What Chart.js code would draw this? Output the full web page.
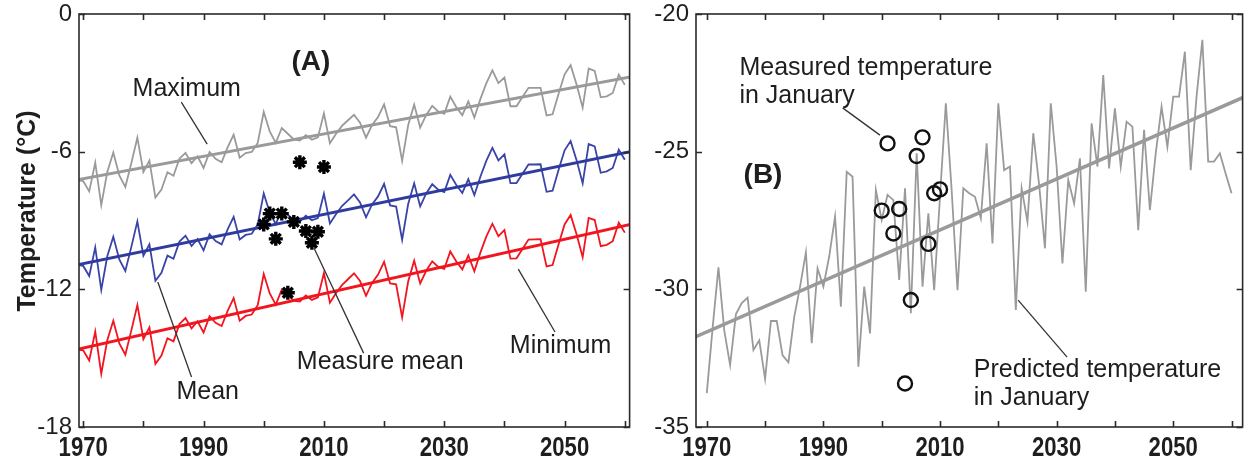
<!DOCTYPE html>
<html>
<head>
<meta charset="utf-8">
<script src="https://cdn.jsdelivr.net/npm/chart.js@4.4.0/dist/chart.umd.min.js"></script>
<style>
  html, body { margin:0; padding:0; background:#fff; }
  #wrapA { position:absolute; left:0; top:0; width:640px; height:461px; }
  #wrapB { position:absolute; left:640px; top:0; width:612px; height:461px; }
</style>
</head>
<body>
<div id="wrapA"><canvas id="chartA"></canvas></div>
<div id="wrapB"><canvas id="chartB"></canvas></div>
<script>
// ---- panel A : annual temperatures (deg C), 1969-2060 ----
const yearsA = Array.from({length: 92}, (_, i) => 1969 + i);

const maxTemp = [
  -7.23,-7.28,-7.73,-6.48,-8.33,-6.89,-6.04,-7.04,-7.54,-6.49,
  -5.39,-6.89,-6.39,-8.00,-7.65,-6.90,-7.05,-6.30,-6.05,-6.50,
  -6.20,-6.71,-6.01,-6.31,-6.46,-5.81,-5.26,-6.26,-6.06,-6.01,
  -5.62,-4.27,-5.12,-5.62,-4.97,-5.22,-5.47,-5.52,-5.28,-5.48,
  -5.38,-4.33,-5.63,-5.23,-4.88,-4.63,-4.39,-4.74,-5.39,-4.84,
  -4.49,-3.94,-4.89,-4.94,-6.40,-4.85,-3.95,-4.95,-4.40,-4.00,
  -4.25,-4.35,-3.60,-4.06,-4.41,-3.81,-4.51,-3.71,-3.01,-2.46,
  -3.01,-2.77,-4.02,-4.02,-3.62,-3.22,-3.22,-3.22,-4.42,-4.37,
  -3.48,-2.63,-2.23,-3.08,-4.08,-2.38,-2.48,-3.63,-3.59,-3.44,
  -2.64,-3.09
];
const meanTemp = [
  -10.93,-10.98,-11.42,-10.17,-12.02,-10.56,-9.71,-10.70,-11.20,-10.15,
  -9.04,-10.54,-10.04,-11.63,-11.28,-10.53,-10.67,-9.92,-9.66,-10.11,
  -9.81,-10.30,-9.60,-9.90,-10.04,-9.39,-8.84,-9.83,-9.63,-9.58,
  -9.17,-7.82,-8.66,-9.16,-8.51,-8.75,-9.00,-9.05,-8.79,-8.99,
  -8.89,-7.83,-9.13,-8.73,-8.37,-8.12,-7.86,-8.21,-8.86,-8.30,
  -7.95,-7.40,-8.34,-8.39,-9.84,-8.28,-7.38,-8.38,-7.82,-7.42,
  -7.66,-7.76,-7.01,-7.45,-7.80,-7.20,-7.89,-7.09,-6.39,-5.83,
  -6.38,-6.12,-7.37,-7.37,-6.96,-6.56,-6.56,-6.55,-7.75,-7.70,
  -6.79,-5.94,-5.54,-6.38,-7.38,-5.67,-5.77,-6.92,-6.86,-6.71,
  -5.91,-6.35
];
const minTemp = [
  -14.62,-14.66,-15.10,-13.84,-15.68,-14.22,-13.37,-14.36,-14.85,-13.79,
  -12.68,-14.17,-13.66,-15.25,-14.89,-14.13,-14.27,-13.51,-13.25,-13.70,
  -13.39,-13.88,-13.17,-13.46,-13.60,-12.94,-12.38,-13.37,-13.16,-13.10,
  -12.69,-11.33,-12.18,-12.67,-12.01,-12.25,-12.49,-12.53,-12.27,-12.46,
  -12.35,-11.29,-12.58,-12.17,-11.82,-11.56,-11.30,-11.64,-12.28,-11.72,
  -11.36,-10.80,-11.74,-11.78,-13.22,-11.66,-10.75,-11.74,-11.19,-10.78,
  -11.02,-11.11,-10.35,-10.79,-11.13,-10.52,-11.21,-10.40,-9.69,-9.14,
  -9.68,-9.42,-10.66,-10.65,-10.24,-9.83,-9.82,-9.81,-11.00,-10.94,
  -10.03,-9.17,-8.76,-9.61,-10.60,-8.89,-8.98,-10.12,-10.06,-9.90,
  -9.09,-9.53
];

// linear trends (end points)
const trendYearsA = [1969, 2061];
const maxTrend  = [-7.23, -2.74];
const meanTrend = [-10.93, -6.00];
const minTrend  = [-14.62, -9.17];

// measured annual mean
const measuredYears = [2000, 2001, 2002, 2003, 2004, 2005, 2006, 2007, 2008, 2009, 2010];
const measuredMean  = [-9.17, -8.70, -9.80, -8.70, -12.15, -9.06, -6.46, -9.46, -9.97, -9.49, -6.67];

// ---- panel B : January temperatures, 1970-2060 ----
const yearsB = Array.from({length: 91}, (_, i) => 1970 + i);
const janPredicted = [
  -33.77,-31.40,-29.20,-31.50,-32.75,-30.90,-30.50,-30.30,-32.20,-31.85,
  -33.25,-31.15,-31.15,-32.40,-32.65,-31.00,-29.90,-28.65,-31.96,-29.24,
  -29.90,-28.80,-27.36,-30.63,-25.73,-25.91,-32.81,-29.90,-31.60,-26.39,
  -27.48,-26.57,-26.76,-29.66,-26.33,-30.87,-25.06,-29.90,-27.24,-30.03,
  -26.63,-23.24,-26.40,-30.03,-26.33,-26.51,-26.64,-27.42,-24.70,-28.33,
  -23.24,-25.67,-25.54,-30.75,-26.33,-27.54,-24.33,-26.20,-28.51,-23.24,
  -25.54,-29.06,-26.03,-26.88,-25.24,-30.09,-23.97,-25.54,-22.22,-25.61,
  -23.43,-25.54,-23.91,-24.09,-27.85,-24.21,-27.12,-25.06,-23.37,-24.82,
  -23.00,-23.00,-21.37,-25.67,-23.00,-20.94,-25.36,-25.36,-25.06,-25.80,
  -26.51
];
const trendYearsB = [1968, 2062];
const janTrend = [-31.73, -23.03];

const janMeasuredYears = [2000, 2001, 2002, 2003, 2004, 2005, 2006, 2007, 2008, 2009, 2010];
const janMeasured = [-27.14, -24.70, -27.97, -27.08, -33.42, -30.39, -25.16, -24.48, -28.35, -26.51, -26.37];

// ticks
const xTickStep = 10;
const xLabelYears = [1970, 1990, 2010, 2030, 2050];
const yTicksA = { min: -18, max: 0, step: 6 };
const yTicksB = { min: -35, max: -20, step: 5 };

const GRAY = '#9a9a9a', BLUE = '#3a44a8', RED = '#f2151f', INK = '#1e1e1e';
const SANS = "'Liberation Sans', Arial, Helvetica, sans-serif";

const pts = (xs, ys) => xs.map((x, i) => ({ x: x, y: ys[i] }));

function lineSet(xs, ys, color, width, order){
  return { data: pts(xs, ys), borderColor: color, borderWidth: width, pointRadius: 0,
           tension: 0, fill: false, order: order };
}

function xScale(min, max){
  return {
    type: 'linear', min: min, max: max,
    grid: { display: false, drawTicks: false }, border: { display: false },
    // labels are drawn condensed by the decor plugin
    ticks: { stepSize: xTickStep, includeBounds: false, autoSkip: false, maxRotation: 0,
             callback: () => '' },
    afterFit: s => { s.height = 34; s.paddingLeft = 0; s.paddingRight = 0; }
  };
}
function yScale(t, w){
  return {
    type: 'linear', min: t.min, max: t.max,
    grid: { display: false, drawTicks: false }, border: { display: false },
    ticks: { stepSize: t.step, padding: 7, color: INK, font: { family: SANS, size: 24 } },
    afterFit: s => { s.width = w; s.paddingTop = 0; s.paddingBottom = 0; }
  };
}

// frame, inward ticks, x labels, notes with leader lines
function makeDecor(notes, leaders, yTitle){
  return {
    id: 'decor',
    afterDatasetsDraw(chart){
      const { ctx, chartArea: a, scales: { x, y } } = chart;
      ctx.save();
      ctx.strokeStyle = '#2a2a2a';
      ctx.lineWidth = 1.6;
      ctx.strokeRect(a.left, a.top, a.right - a.left, a.bottom - a.top);
      ctx.beginPath();
      x.ticks.forEach(t => {
        const px = Math.round(x.getPixelForValue(t.value)) + 0.5;
        ctx.moveTo(px, a.bottom); ctx.lineTo(px, a.bottom - 6);
        ctx.moveTo(px, a.top); ctx.lineTo(px, a.top + 6);
      });
      y.ticks.forEach(t => {
        const py = Math.round(y.getPixelForValue(t.value)) + 0.5;
        ctx.moveTo(a.left, py); ctx.lineTo(a.left + 6, py);
        ctx.moveTo(a.right, py); ctx.lineTo(a.right - 6, py);
      });
      ctx.stroke();

      // condensed bold year labels
      ctx.fillStyle = INK;
      ctx.font = 'bold 27px ' + SANS;
      ctx.textAlign = 'center';
      ctx.textBaseline = 'alphabetic';
      xLabelYears.forEach(v => {
        ctx.save();
        ctx.translate(x.getPixelForValue(v), a.bottom + 29);
        ctx.scale(0.82, 1);
        ctx.fillText(String(v), 0, 0);
        ctx.restore();
      });

      ctx.strokeStyle = '#333';
      ctx.lineWidth = 1.3;
      leaders.forEach(l => {
        ctx.beginPath();
        ctx.moveTo(x.getPixelForValue(l[0]), y.getPixelForValue(l[1]));
        ctx.lineTo(x.getPixelForValue(l[2]), y.getPixelForValue(l[3]));
        ctx.stroke();
      });

      ctx.textBaseline = 'middle';
      notes.forEach(n => {
        ctx.font = (n.bold ? 'bold ' : '') + n.size + 'px ' + SANS;
        ctx.textAlign = n.align || 'left';
        ctx.fillText(n.text, x.getPixelForValue(n.x), y.getPixelForValue(n.y));
      });

      if (yTitle){
        ctx.translate(28, 211);
        ctx.rotate(-Math.PI / 2);
        ctx.textAlign = 'center';
        ctx.font = 'bold 25px ' + SANS;
        ctx.fillText(yTitle, 0, 0);
      }
      ctx.restore();
    }
  };
}

const baseOptions = (xs, ys, pad) => ({
  responsive: true, maintainAspectRatio: false, animation: false,
  layout: { padding: pad },
  plugins: { legend: { display: false }, tooltip: { enabled: false } },
  scales: { x: xs, y: ys }
});

// panel A
new Chart(document.getElementById('chartA'), {
  type: 'line',
  data: { datasets: [
    { data: pts(measuredYears, measuredMean), showLine: false, pointStyle: 'star',
      pointRadius: 7, borderColor: '#000', borderWidth: 3.4, order: 0 },
    lineSet(trendYearsA, maxTrend, GRAY, 3, 1),
    lineSet(trendYearsA, meanTrend, '#2f3b9e', 3, 1),
    lineSet(trendYearsA, minTrend, RED, 3, 1),
    lineSet(yearsA, maxTemp, GRAY, 1.8, 2),
    lineSet(yearsA, meanTemp, BLUE, 1.8, 2),
    lineSet(yearsA, minTemp, RED, 1.8, 2)
  ]},
  options: baseOptions(xScale(1969.3, 2060.8), yScale(yTicksA, 79), { left: 0, right: 8, top: 14, bottom: 0 }),
  plugins: [makeDecor(
    [
      { text: '(A)', x: 2007.85, y: -2.1, size: 28, bold: true, align: 'center' },
      { text: 'Maximum', x: 1978.2, y: -3.27, size: 25 },
      { text: 'Mean', x: 1985.5, y: -16.48, size: 25 },
      { text: 'Measure mean', x: 2005.5, y: -15.17, size: 25 },
      { text: 'Minimum', x: 2040.9, y: -14.47, size: 25 }
    ],
    [
      [1986.3, -3.84, 1990.6, -5.67],
      [1988.0, -15.82, 1982.4, -11.68],
      [2016.6, -14.78, 2008.35, -10.2],
      [2048.4, -13.86, 2042.3, -11.12]
    ],
    'Temperature (°C)'
  )]
});

// panel B
new Chart(document.getElementById('chartB'), {
  type: 'line',
  data: { datasets: [
    { data: pts(janMeasuredYears, janMeasured), showLine: false, pointStyle: 'circle',
      pointRadius: 7, borderColor: '#111', backgroundColor: 'rgba(0,0,0,0)', borderWidth: 2.4, order: 0 },
    lineSet(trendYearsB, janTrend, GRAY, 3.5, 1),
    lineSet(yearsB, janPredicted, GRAY, 1.8, 2)
  ]},
  options: baseOptions(xScale(1968.15, 2061.9), yScale(yTicksB, 56), { left: 0, right: 1, top: 14, bottom: 0 }),
  plugins: [makeDecor(
    [
      { text: 'Measured temperature', x: 1975.6, y: -21.96, size: 25 },
      { text: 'in January', x: 1975.6, y: -22.98, size: 25 },
      { text: '(B)', x: 1979.64, y: -25.85, size: 28, bold: true, align: 'center' },
      { text: 'Predicted temperature', x: 2015.8, y: -32.93, size: 25 },
      { text: 'in January', x: 2015.8, y: -33.95, size: 25 }
    ],
    [
      [1993.3, -23.41, 1999.7, -24.40],
      [2031.8, -32.46, 2023.4, -30.39]
    ],
    null
  )]
});
</script>
</body>
</html>
